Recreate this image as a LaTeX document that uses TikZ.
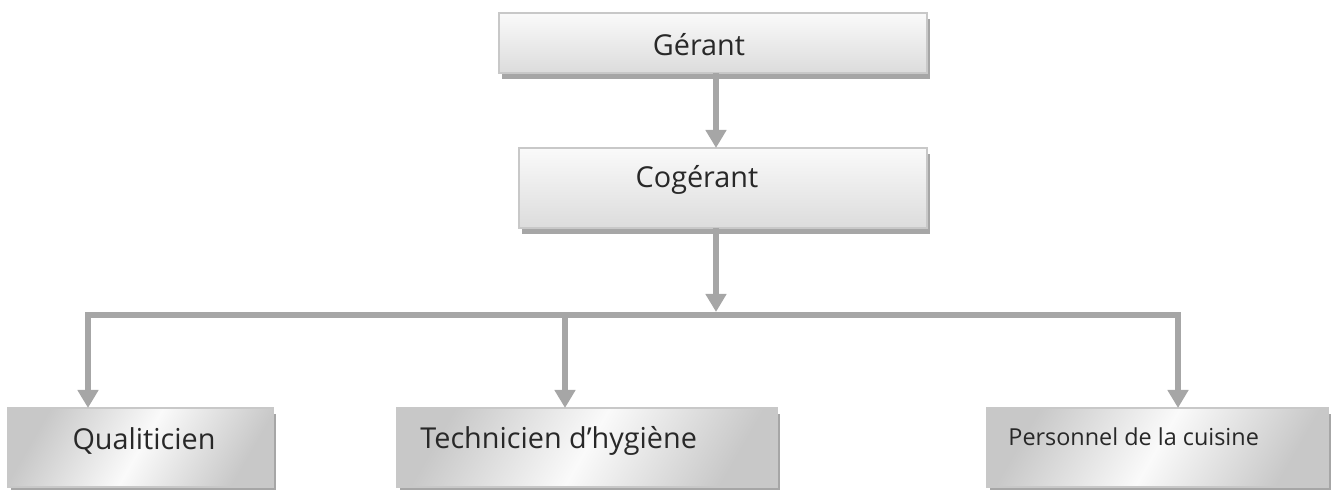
\documentclass[tikz,border=0pt]{standalone}
\usepackage{fontspec}
\setmainfont{Open Sans}
\usetikzlibrary{arrows.meta,shadows}
\definecolor{lineG}{RGB}{166,166,166}
\definecolor{edgeG}{RGB}{200,200,200}
\definecolor{shadeA}{RGB}{250,250,250}
\definecolor{shadeB}{RGB}{220,220,220}
\definecolor{shadeC}{RGB}{200,200,200}
\definecolor{inkG}{RGB}{40,40,40}

\begin{document}
\begin{tikzpicture}[x=0.5pt, y=-0.5pt, line join=miter,
  topbox/.style={draw=edgeG, line width=1pt, top color=shadeA, bottom color=shadeB,
    drop shadow={shadow xshift=1.5pt, shadow yshift=-3pt, fill=lineG, opacity=1},
    anchor=north west, inner sep=0pt, outer sep=0pt, minimum height=30pt},
  lowbox/.style={topbox, left color=shadeC, right color=shadeC, middle color=shadeA,
    shading angle=60, minimum height=39.5pt},
  link/.style={draw=lineG, line width=3pt, -{Triangle[width=10pt,length=9pt]}},
  txt/.style={inner sep=0pt, text=inkG, font=\fontsize{14.4}{17}\selectfont}]
\useasboundingbox (0,0) rectangle (1332,490);
% ---------- direction ----------
\node[topbox, minimum width=214pt] (gerant) at (499,13) {};
\node[txt] (gerantlbl) at (699,45) {Gérant};
\node[topbox, minimum width=204pt, minimum height=40pt] (cogerant) at (519,148) {};
\node[txt] (cogerantlbl) at (697,180) {Cogérant};
% ---------- services ----------
\node[lowbox, minimum width=132.5pt] (qual) at (8,408) {};
\node[txt] (quallbl) at (144,441) {Qualiticien};
\node[lowbox, minimum width=190pt] (tech) at (397,408) {};
\node[txt, anchor=west] (techlbl) at (420,441) {Technicien d’hygiène};
\node[lowbox, minimum width=170.5pt] (pers) at (987,408) {};
\node[txt, anchor=west, font=\fontsize{11.7}{14}\selectfont] (perslbl) at (1008,437) {Personnel de la cuisine};
% ---------- liaisons ----------
\coordinate (spine) at (716,0);
\coordinate (bus) at (716,312);
\coordinate (busL) at (88,315);
\coordinate (busT) at (565,315);
\coordinate (busR) at (1178,315);
\draw[link] (gerant.south -| spine) -- (cogerant.north -| spine);
\draw[link] (cogerant.south -| spine) -- (bus);
\draw[link, {Triangle[width=10pt,length=9pt]}-{Triangle[width=10pt,length=9pt]}]
  (qual.north -| busL) -- (busL) -- (busR) -- (pers.north -| busR);
\draw[link] (busT) -- (tech.north -| busT);
\end{tikzpicture}
\end{document}
